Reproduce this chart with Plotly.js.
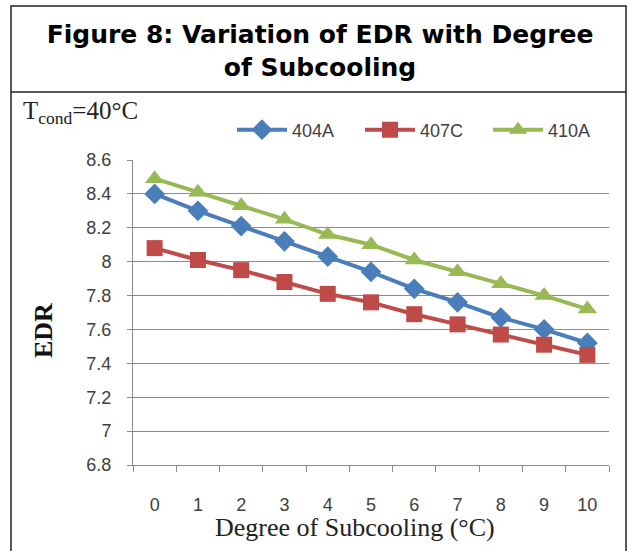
<!DOCTYPE html>
<html>
<head>
<meta charset="utf-8">
<script src="https://cdn.plot.ly/plotly-3.0.1.min.js"></script>
<style>html,body{margin:0;padding:0;background:#fff;}#chart{width:629px;height:551px;}</style>
</head>
<body>
<div id="chart"></div>
<script>
const categories = ["0","1","2","3","4","5","6","7","8","9","10"];
const edr404A = [8.40, 8.30, 8.21, 8.12, 8.03, 7.94, 7.84, 7.76, 7.67, 7.60, 7.52];
const edr407C = [8.08, 8.01, 7.95, 7.88, 7.81, 7.76, 7.69, 7.63, 7.57, 7.51, 7.45];
const edr410A = [8.49, 8.41, 8.33, 8.25, 8.16, 8.10, 8.01, 7.94, 7.87, 7.80, 7.72];
const yTicks = [6.8, 7, 7.2, 7.4, 7.6, 7.8, 8, 8.2, 8.4, 8.6];
const yTickText = ["6.8","7","7.2","7.4","7.6","7.8","8","8.2","8.4","8.6"];

const L = 133, R = 20, T = 160, B = 86, W = 629, H = 551;
const pw = W - L - R, ph = H - T - B;
const xp = px => (px - L) / pw;
const yp = py => (H - B - py) / ph;

const lineW = 4;
const traces = [
  {x: categories, y: edr404A, name: "404A", type: "scatter", mode: "lines+markers",
   line: {color: "#4A7EBB", width: lineW}, marker: {symbol: "diamond", size: 16, color: "#4A7EBB"}},
  {x: categories, y: edr407C, name: "407C", type: "scatter", mode: "lines+markers",
   line: {color: "#BE4B48", width: lineW}, marker: {symbol: "square", size: 16, color: "#BE4B48"}},
  {x: categories, y: edr410A, name: "410A", type: "scatter", mode: "lines+markers",
   line: {color: "#98B954", width: lineW}, marker: {symbol: "triangle-up", size: 17, color: "#98B954"}}
];

const gridC = "#8C8C8C";
const layout = {
  width: W, height: H,
  margin: {l: L, r: R, t: T, b: B, pad: 0, autoexpand: false},
  paper_bgcolor: "#fff", plot_bgcolor: "#fff",
  showlegend: true,
  title: {
    text: "<b>Figure 8: Variation of EDR with Degree<br>of Subcooling</b>",
    font: {family: "DejaVu Sans", size: 25, color: "#000"},
    x: 320 / W, xref: "container", xanchor: "center",
    y: 1 - 43 / H, yref: "container", yanchor: "middle"
  },
  legend: {
    orientation: "h", x: xp(232), xanchor: "left", y: yp(130), yanchor: "middle",
    font: {family: "Liberation Sans", size: 18, color: "#404040"},
    bgcolor: "rgba(0,0,0,0)", borderwidth: 0, itemwidth: 50,
    entrywidth: 63, traceorder: "normal"
  },
  xaxis: {
    type: "category", range: [-0.5, 10.5], fixedrange: true,
    showline: true, linecolor: gridC, linewidth: 1,
    ticks: "outside", tickson: "boundaries", ticklen: 6, tickcolor: gridC, tickwidth: 1,
    showgrid: false, zeroline: false,
    tickfont: {family: "Liberation Sans", size: 18, color: "#404040"},
    ticklabelstandoff: 23
  },
  yaxis: {
    range: [6.8, 8.6], fixedrange: true,
    tickvals: yTicks, ticktext: yTickText,
    showline: true, linecolor: gridC, linewidth: 1,
    ticks: "outside", ticklen: 5, tickcolor: gridC, tickwidth: 1,
    showgrid: true, gridcolor: gridC, gridwidth: 1, zeroline: false,
    tickfont: {family: "Liberation Sans", size: 18, color: "#404040"},
    ticklabelstandoff: 12
  },
  annotations: [
    {text: "T<sub>cond</sub>=40°C", xref: "paper", yref: "paper", x: xp(21), y: yp(113),
     xanchor: "left", yanchor: "middle", showarrow: false,
     font: {family: "Liberation Serif", size: 25, color: "#222"}},
    {text: "<b>EDR</b>", xref: "paper", yref: "paper", x: xp(43), y: yp(331),
     xanchor: "center", yanchor: "middle", textangle: -90, showarrow: false,
     font: {family: "Liberation Serif", size: 26, color: "#111"}},
    {text: "Degree of Subcooling (°C)", xref: "paper", yref: "paper", x: xp(355), y: yp(527),
     xanchor: "center", yanchor: "middle", showarrow: false,
     font: {family: "Liberation Serif", size: 26, color: "#222"}}
  ],
  shapes: [
    {type: "rect", xref: "paper", yref: "paper", x0: xp(11), x1: xp(626), y0: yp(6), y1: yp(570),
     line: {color: "#222", width: 1.5}, fillcolor: "rgba(0,0,0,0)", layer: "above"},
    {type: "line", xref: "paper", yref: "paper", x0: xp(11), x1: xp(626), y0: yp(92), y1: yp(92),
     line: {color: "#222", width: 1.5}, layer: "above"}
  ]
};

Plotly.newPlot("chart", traces, layout, {displayModeBar: false, staticPlot: true});
</script>
</body>
</html>
